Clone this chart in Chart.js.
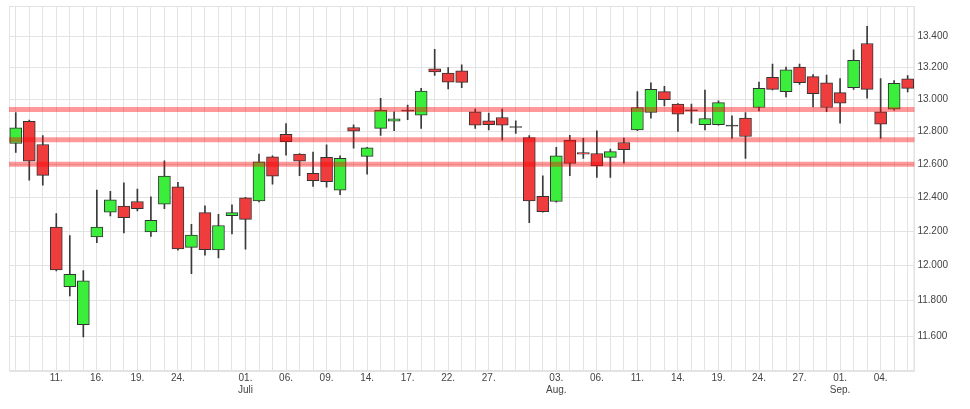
<!DOCTYPE html>
<html>
<head>
<meta charset="utf-8">
<script src="https://cdn.jsdelivr.net/npm/chart.js@4.4.1/dist/chart.umd.min.js"></script>
<style>
  html, body { margin: 0; padding: 0; background: #fff; }
  #wrap { width: 970px; height: 409px; }
</style>
</head>
<body>
<div id="wrap"><canvas id="candles"></canvas></div>
<script>
// === DATA (daily candles, trading days only) ===
const dates = [
  '2020-06-08', '2020-06-09', '2020-06-10', '2020-06-11', '2020-06-12', '2020-06-15', '2020-06-16',
  '2020-06-17', '2020-06-18', '2020-06-19', '2020-06-22', '2020-06-23', '2020-06-24', '2020-06-25',
  '2020-06-26', '2020-06-29', '2020-06-30', '2020-07-01', '2020-07-02', '2020-07-03', '2020-07-06',
  '2020-07-07', '2020-07-08', '2020-07-09', '2020-07-10', '2020-07-13', '2020-07-14', '2020-07-15',
  '2020-07-16', '2020-07-17', '2020-07-20', '2020-07-21', '2020-07-22', '2020-07-23', '2020-07-24',
  '2020-07-27', '2020-07-28', '2020-07-29', '2020-07-30', '2020-07-31', '2020-08-03', '2020-08-04',
  '2020-08-05', '2020-08-06', '2020-08-07', '2020-08-10', '2020-08-11', '2020-08-12', '2020-08-13',
  '2020-08-14', '2020-08-17', '2020-08-18', '2020-08-19', '2020-08-20', '2020-08-21', '2020-08-24',
  '2020-08-25', '2020-08-26', '2020-08-27', '2020-08-28', '2020-08-31', '2020-09-01', '2020-09-02',
  '2020-09-03', '2020-09-04', '2020-09-07', '2020-09-08'
];

const openPrices = [
  12726, 12862, 12720, 12224, 11879, 11664, 12167, 12312, 12348, 12376, 12196, 12360, 12464, 12106,
  12310, 12091, 12292, 12398, 12380, 12645, 12782, 12661, 12545, 12641, 12444, 12824, 12647, 12819,
  12864, 12926, 12901, 13192, 13165, 13179, 12921, 12866, 12886, 12824, 12763, 12406, 12376, 12747,
  12671, 12665, 12641, 12732, 12810, 12917, 13047, 12969, 12927, 12841, 12841, 12833, 12882, 12948,
  13137, 13047, 13202, 13142, 13103, 13041, 13072, 13353, 12921, 12938, 13128
];

const highPrices = [
  12917, 12870, 12774, 12304, 12175, 11971, 12444, 12436, 12488, 12450, 12404, 12620, 12490, 12240,
  12350, 12300, 12356, 12400, 12661, 12651, 12849, 12665, 12674, 12718, 12651, 12841, 12702, 13006,
  12921, 12963, 13068, 13315, 13200, 13217, 12938, 12913, 12938, 12866, 12774, 12530, 12702, 12776,
  12757, 12804, 12692, 12759, 13047, 13103, 13081, 12973, 12969, 13057, 12990, 12897, 12917, 13107,
  13221, 13202, 13221, 13155, 13151, 13130, 13312, 13464, 13130, 13117, 13149
];

const lowPrices = [
  12671, 12504, 12474, 11970, 11826, 11596, 12133, 12290, 12190, 12320, 12170, 12334, 12090, 11954,
  12061, 12044, 12185, 12095, 12374, 12480, 12655, 12530, 12466, 12462, 12416, 12697, 12540, 12776,
  12804, 12872, 12819, 13149, 13065, 13072, 12819, 12809, 12747, 12788, 12250, 12312, 12372, 12530,
  12635, 12520, 12520, 12606, 12804, 12882, 12958, 12800, 12851, 12810, 12838, 12757, 12635, 12927,
  13058, 13014, 13093, 12952, 12923, 12851, 13062, 13006, 12757, 12932, 13045
];

const closePrices = [
  12823, 12618, 12532, 11975, 11950, 11913, 12224, 12386, 12280, 12334, 12264, 12528, 12097, 12177,
  12093, 12234, 12310, 12270, 12614, 12528, 12737, 12618, 12500, 12494, 12635, 12802, 12700, 12932,
  12878, 12926, 13051, 13171, 13107, 13106, 12839, 12841, 12839, 12824, 12380, 12316, 12651, 12604,
  12661, 12590, 12676, 12688, 12948, 13062, 12997, 12907, 12927, 12880, 12979, 12833, 12769, 13068,
  13062, 13185, 13103, 13035, 12948, 12975, 13245, 13062, 12845, 13099, 13068
];

// horizontal marker lines
const levelLines = [12936, 12749, 12600];

// axis ticks
const yTicks = [11600, 11800, 12000, 12200, 12400, 12600, 12800, 13000, 13200, 13400];
const tickDates = [
  '2020-06-11', '2020-06-16', '2020-06-19', '2020-06-24', '2020-07-01', '2020-07-06', '2020-07-09',
  '2020-07-14', '2020-07-17', '2020-07-22', '2020-07-27', '2020-08-03', '2020-08-06', '2020-08-11',
  '2020-08-14', '2020-08-19', '2020-08-24', '2020-08-27', '2020-09-01', '2020-09-04'
];
const tickTexts = [
  '11.', '16.', '19.', '24.', ['01.', 'Juli'], '06.', '09.',
  '14.', '17.', '22.', '27.', ['03.', 'Aug.'], '06.', '11.',
  '14.', '19.', '24.', '27.', ['01.', 'Sep.'], '04.'
];

// === HELPERS ===
function formatPoints(v) {
  const s = String(Math.round(v));
  return s.slice(0, -3) + '.' + s.slice(-3);
}

const GREEN = '#3cee3c';
const RED = '#ef3d3d';
const bodyColors = closePrices.map((c, i) =>
  c > openPrices[i] ? GREEN : (c < openPrices[i] ? RED : '#333333'));

// === PLUGINS ===
const frameLines = {
  id: 'frameLines',
  beforeDatasetsDraw(chart) {
    const { ctx, chartArea: a } = chart;
    ctx.save();
    ctx.strokeStyle = '#e3e3e3';
    ctx.lineWidth = 1;
    ctx.strokeRect(a.left + 0.5, a.top + 0.5, a.right - a.left - 1, a.bottom - a.top - 1);
    ctx.restore();
  }
};

const levelPlugin = {
  id: 'levelPlugin',
  afterDatasetsDraw(chart) {
    const { ctx, chartArea: a } = chart;
    const y = chart.scales.y;
    ctx.save();
    ctx.strokeStyle = 'rgba(255,0,0,0.4)';
    ctx.lineWidth = 5;
    levelLines.forEach(level => {
      const py = y.getPixelForValue(level);
      ctx.beginPath();
      ctx.moveTo(a.left, py);
      ctx.lineTo(a.right, py);
      ctx.stroke();
    });
    ctx.restore();
  }
};

// === CHART ===
const ctx = document.getElementById('candles').getContext('2d');
new Chart(ctx, {
  type: 'bar',
  data: {
    labels: dates,
    datasets: [
      {
        label: 'body',
        data: openPrices.map((o, i) => [o, closePrices[i]]),
        backgroundColor: bodyColors,
        borderColor: '#333333',
        borderWidth: 1,
        borderSkipped: false,
        barThickness: 12,
        minBarLength: 1,
        grouped: false
      },
      {
        label: 'wick',
        data: lowPrices.map((l, i) => [l, highPrices[i]]),
        backgroundColor: '#3a3a3a',
        borderWidth: 0,
        barThickness: 1,
        grouped: false
      }
    ]
  },
  options: {
    responsive: true,
    maintainAspectRatio: false,
    animation: false,
    layout: { padding: { left: 9, top: 4, right: 19, bottom: 12 } },
    plugins: {
      legend: { display: false },
      tooltip: { enabled: false }
    },
    scales: {
      x: {
        type: 'category',
        offset: true,
        grid: { offset: false, color: '#e3e3e3', drawTicks: false },
        border: { color: '#e3e3e3' },
        ticks: {
          autoSkip: false,
          maxRotation: 0,
          padding: 1,
          color: '#444',
          font: { family: 'Liberation Sans', size: 10 },
          callback: function (val, idx) {
            const k = tickDates.indexOf(dates[idx]);
            return k >= 0 ? tickTexts[k] : '';
          }
        }
      },
      y: {
        type: 'logarithmic',
        position: 'right',
        min: 11407,
        max: 13596,
        grid: { color: '#e3e3e3', drawTicks: false },
        border: { color: '#e3e3e3' },
        afterBuildTicks: scale => {
          scale.ticks = yTicks.map(v => ({ value: v }));
        },
        ticks: {
          padding: 3,
          color: '#444',
          font: { family: 'Liberation Sans', size: 10, lineHeight: 0.6 },
          callback: v => formatPoints(v)
        }
      }
    }
  },
  plugins: [frameLines, levelPlugin]
});
</script>
</body>
</html>
